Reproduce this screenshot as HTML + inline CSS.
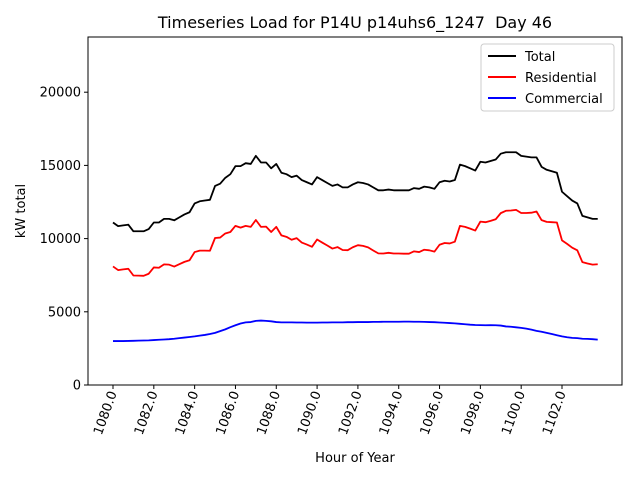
<!DOCTYPE html>
<html><head><meta charset="utf-8"><style>
body{margin:0;background:#fff;font-family:"Liberation Sans","DejaVu Sans",sans-serif}
svg text{font-family:"DejaVu Sans","Liberation Sans",sans-serif}
</style></head><body>
<svg id="chart" width="640" height="480" viewBox="0 0 640 480" xmlns="http://www.w3.org/2000/svg">
<rect width="640" height="480" fill="#fff"/>
<text x="355" y="28" font-size="16" text-anchor="middle">Timeseries Load for P14U p14uhs6_1247&#160; Day 46</text>
<g id="plot"></g>
<rect x="88" y="37" width="534" height="348" fill="none" stroke="#000" stroke-width="1"/>
<text transform="translate(25,211) rotate(-90)" font-size="13" text-anchor="middle">kW total</text>
<text x="355" y="462" font-size="13" text-anchor="middle">Hour of Year</text>
<g>
<rect x="481" y="44" width="133" height="67" fill="#fff" stroke="#ccc" rx="3"/>
<line x1="488" y1="56" x2="516" y2="56" stroke="#000" stroke-width="2"/>
<text x="525" y="61" font-size="13">Total</text>
<line x1="488" y1="77" x2="516" y2="77" stroke="red" stroke-width="2"/>
<text x="525" y="82" font-size="13">Residential</text>
<line x1="488" y1="98" x2="516" y2="98" stroke="blue" stroke-width="2"/>
<text x="525" y="103" font-size="13">Commercial</text>
</g>
</svg>
<script>
const startHour = 1080;
const stepHour = 0.25;
const totalVals = [11100,10850,10900,10950,10500,10500,10500,10650,11100,11100,11350,11350,11250,11450,11650,11800,12400,12550,12600,12650,13600,13750,14150,14400,14950,14950,15150,15100,15650,15200,15200,14800,15100,14500,14400,14200,14300,14000,13850,13700,14200,14000,13800,13600,13700,13500,13500,13700,13850,13800,13700,13500,13300,13300,13350,13300,13300,13300,13300,13450,13400,13550,13500,13400,13850,13950,13900,14000,15050,14950,14800,14650,15250,15200,15300,15400,15800,15900,15900,15900,15650,15600,15550,15550,14900,14700,14600,14500,13200,12900,12600,12400,11550,11450,11350,11350];
const residentialVals = [8100,7850,7900,7940,7480,7470,7460,7600,8030,8010,8240,8220,8090,8250,8410,8520,9080,9180,9180,9170,10040,10070,10350,10450,10870,10750,10870,10800,11270,10800,10820,10450,10800,10220,10120,9920,10030,9730,9590,9440,9940,9730,9530,9320,9420,9220,9210,9410,9550,9500,9400,9190,8990,8980,9030,8980,8980,8970,8970,9130,9080,9240,9200,9110,9580,9700,9670,9790,10870,10800,10680,10550,11160,11120,11210,11320,11740,11900,11920,11960,11750,11750,11770,11850,11260,11140,11120,11100,9880,9640,9380,9200,8390,8300,8220,8250];
const commercialVals = [3000,3000,3000,3010,3020,3030,3040,3050,3070,3090,3110,3130,3160,3200,3240,3280,3320,3370,3420,3480,3560,3680,3800,3950,4080,4200,4280,4300,4380,4400,4380,4350,4300,4280,4280,4280,4270,4270,4260,4260,4260,4270,4270,4280,4280,4280,4290,4290,4300,4300,4300,4310,4310,4320,4320,4320,4320,4330,4330,4320,4320,4310,4300,4290,4270,4250,4230,4210,4180,4150,4120,4100,4090,4080,4090,4080,4060,4000,3980,3940,3900,3850,3780,3700,3640,3560,3480,3400,3320,3260,3220,3200,3160,3150,3130,3100];
const xTicks = [1080,1082,1084,1086,1088,1090,1092,1094,1096,1098,1100,1102];
const yTicks = [0,5000,10000,15000,20000];

const NS = "http://www.w3.org/2000/svg";
function xs(h){ return 113 + (h - 1080) * (562 - 113) / 22; }
function ys(v){ return 385 - v * (73.2 / 5000); }
const g = document.getElementById('plot');

yTicks.forEach(v => {
  const l = document.createElementNS(NS,'line');
  
  
  l.setAttribute('x1',84); l.setAttribute('x2',88);
  l.setAttribute('y1',ys(v)); l.setAttribute('y2',ys(v));
  l.setAttribute('stroke','#000');
  g.appendChild(l);
  const t = document.createElementNS(NS,'text');
  
  
  t.setAttribute('x',81); t.setAttribute('y',ys(v)+4.5);
  t.setAttribute('font-size','13'); t.setAttribute('text-anchor','end');
  t.textContent = v;
  g.appendChild(t);
});
xTicks.forEach(h => {
  const x = xs(h);
  const l = document.createElementNS(NS,'line');
  
  
  l.setAttribute('x1',x); l.setAttribute('x2',x);
  l.setAttribute('y1',385); l.setAttribute('y2',389);
  l.setAttribute('stroke','#000');
  g.appendChild(l);
  const t = document.createElementNS(NS,'text');
  
  
  t.setAttribute('transform','translate('+(x+4)+',393) rotate(-70)');
  t.setAttribute('font-size','13'); t.setAttribute('text-anchor','end');
  t.textContent = h.toFixed(1);
  g.appendChild(t);
});
function series(vals, color, name){
  const p = document.createElementNS(NS,'polyline');
  
  
  p.setAttribute('points', vals.map((v,i)=>xs(startHour+i*stepHour).toFixed(2)+','+ys(v).toFixed(2)).join(' '));
  p.setAttribute('fill','none'); p.setAttribute('stroke',color);
  p.setAttribute('stroke-width','1.8'); p.setAttribute('stroke-linejoin','round');
  g.appendChild(p);
}
series(totalVals,'#000','total-line');
series(residentialVals,'red','residential-line');
series(commercialVals,'blue','commercial-line');
</script>
</body></html>
